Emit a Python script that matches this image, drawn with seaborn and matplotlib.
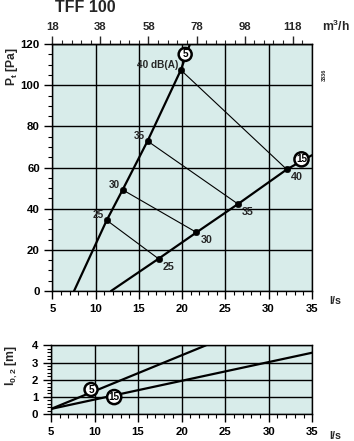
import numpy as np
import pandas as pd
import matplotlib
matplotlib.use("Agg")
import matplotlib.pyplot as plt
from matplotlib.ticker import MultipleLocator, FixedLocator
import seaborn as sns

# ---------------- data ----------------
title = "TFF 100"
# curve for setting 5 (low flow) : l/s vs Pa
c5_x = [7.5, 11.28, 13.12, 16.0, 19.85, 20.9]
c5_y = [0, 34.4, 49.2, 72.9, 107.4, 120]
# curve for setting 15 (high flow)
c15_x = [11.77, 17.27, 21.66, 26.46, 32.1, 35.0]
c15_y = [0, 15.7, 28.5, 42.3, 59.1, 66.0]
db_levels = ["25", "30", "35", "40"]
# sound level points on each curve
p5_x = [11.28, 13.12, 16.0, 19.85]
p5_y = [34.4, 49.2, 72.9, 107.4]
p15_x = [17.27, 21.66, 26.46, 32.1]
p15_y = [15.7, 28.5, 42.3, 59.1]
setting_labels = ["5", "15"]
main_circle_x = [20.35, 33.8]
main_circle_y = [115.0, 64.0]
# throw length l0,2 [m]
t5_x = [5, 22.8]
t5_y = [0.3, 4.0]
t15_x = [5, 35]
t15_y = [0.3, 3.57]
low_circle_x = [9.6, 12.26]
low_circle_y = [1.43, 0.99]
x_ticks = [5, 10, 15, 20, 25, 30, 35]
y_ticks_main = [0, 20, 40, 60, 80, 100, 120]
y_ticks_low = [0, 1, 2, 3, 4]
top_ticks = [18, 38, 58, 78, 98, 118]

# ---------------- style ----------------
sns.set_theme(style="ticks")
plt.rcParams["font.family"] = ["Liberation Sans Narrow", "Liberation Sans", "DejaVu Sans"]
plt.rcParams["font.weight"] = "bold"
face = "#d8ecea"
fs = 8.2

fig = plt.figure(figsize=(3.54, 4.41), dpi=100)
ax = fig.add_axes([0.148, 0.340, 0.733, 0.560])
axl = fig.add_axes([0.144, 0.061, 0.738, 0.156])

for a in (ax, axl):
    a.set_facecolor(face)
    for s in a.spines.values():
        s.set_color("black")
        s.set_linewidth(1.0)
    a.tick_params(which="major", direction="out", length=6, width=1.0,
                  colors="black", labelsize=fs, pad=3)
    a.tick_params(which="minor", direction="out", length=3, width=0.8, colors="black")
    a.set_xlim(5, 35)
    a.set_xticks(x_ticks)
    a.xaxis.set_minor_locator(MultipleLocator(1))
    a.grid(True, which="major", color="black", linewidth=1.0)
    a.set_axisbelow(True)
    for lab in a.get_xticklabels() + a.get_yticklabels():
        lab.set_fontweight("bold")
    a.tick_params(axis="x", pad=3.5)

# main axes
ax.set_ylim(0, 120)
ax.set_yticks(y_ticks_main)
ax.yaxis.set_minor_locator(MultipleLocator(5))

# iso-dB connecting lines
for i in range(len(db_levels)):
    sns.lineplot(x=[p5_x[i], p15_x[i]], y=[p5_y[i], p15_y[i]], ax=ax,
                 color="black", linewidth=0.8, sort=False, zorder=3)

sns.lineplot(x=c5_x, y=c5_y, ax=ax, color="black", linewidth=1.6, sort=False, zorder=4)
sns.lineplot(x=c15_x, y=c15_y, ax=ax, color="black", linewidth=1.6, sort=False, zorder=4)
sns.scatterplot(x=p5_x + p15_x, y=p5_y + p15_y, ax=ax, color="black", s=22,
                edgecolor="black", zorder=5)

for i, lv in enumerate(db_levels):
    t = lv + " dB(A)" if i == len(db_levels) - 1 else lv
    ax.annotate(t, (p5_x[i], p5_y[i]), xytext=(-2, 0), textcoords="offset points",
                ha="right", va="bottom", fontsize=fs - 1, fontweight="bold")
    ax.annotate(lv, (p15_x[i], p15_y[i]), xytext=(3, -2), textcoords="offset points",
                ha="left", va="top", fontsize=fs - 0.5, fontweight="bold")

def circ(a, x, y, txt):
    a.text(x, y, txt, ha="center", va="center", fontsize=fs - 1, fontweight="bold",
           color="black", zorder=7,
           bbox=dict(boxstyle="circle,pad=0.15", fc="white", ec="black", lw=1.8))

for i, s in enumerate(setting_labels):
    circ(ax, main_circle_x[i], main_circle_y[i], s)

ax.set_xlabel("")
ax.set_ylabel("")
fig.text(0.035, 0.85, "P$_\\mathregular{t}$ [Pa]", rotation=90,
         ha="center", va="center", fontsize=fs + 0.5, fontweight="bold")
fig.text(0.947, 0.318, "l/s", ha="center", va="center",
         fontsize=fs - 0.5, fontweight="bold")
ax.text(1.05, 0.874, "3836", transform=ax.transAxes, rotation=90, ha="center",
        va="center", fontsize=4, fontweight="bold")

# top axis m3/h
sec = ax.secondary_xaxis("top", functions=(lambda x: x * 3.6, lambda m: m / 3.6))
sec.xaxis.set_major_locator(FixedLocator(top_ticks))
sec.xaxis.set_minor_locator(FixedLocator(np.arange(18, 125, 4)))
sec.tick_params(which="major", direction="out", length=6, width=1.0, labelsize=fs, pad=3)
sec.tick_params(which="minor", direction="out", length=3, width=0.8)
for lab in sec.get_xticklabels():
    lab.set_fontweight("bold")
sec.spines["top"].set_linewidth(1.0)
fig.text(0.95, 0.94, "m$^\\mathregular{3}$/h", ha="center",
         va="center", fontsize=fs + 0.5, fontweight="bold")
fig.text(0.155, 0.983, title, ha="left", va="center", fontsize=11.5, fontweight="bold")

# lower axes
axl.set_ylim(0, 4)
axl.set_yticks(y_ticks_low)
axl.yaxis.set_minor_locator(MultipleLocator(0.2))
sns.lineplot(x=t5_x, y=t5_y, ax=axl, color="black", linewidth=1.6, sort=False, zorder=4)
sns.lineplot(x=t15_x, y=t15_y, ax=axl, color="black", linewidth=1.6, sort=False, zorder=4)
for i, s in enumerate(setting_labels):
    circ(axl, low_circle_x[i], low_circle_y[i], s)
axl.set_xlabel("")
axl.set_ylabel("")
fig.text(0.035, 0.172, "l$_\\mathregular{0,2}$ [m]", rotation=90,
         ha="center", va="center", fontsize=fs + 0.5, fontweight="bold")
fig.text(0.947, 0.011, "l/s", ha="center", va="center",
         fontsize=fs - 0.5, fontweight="bold")

fig.savefig("out.png", dpi=100)
